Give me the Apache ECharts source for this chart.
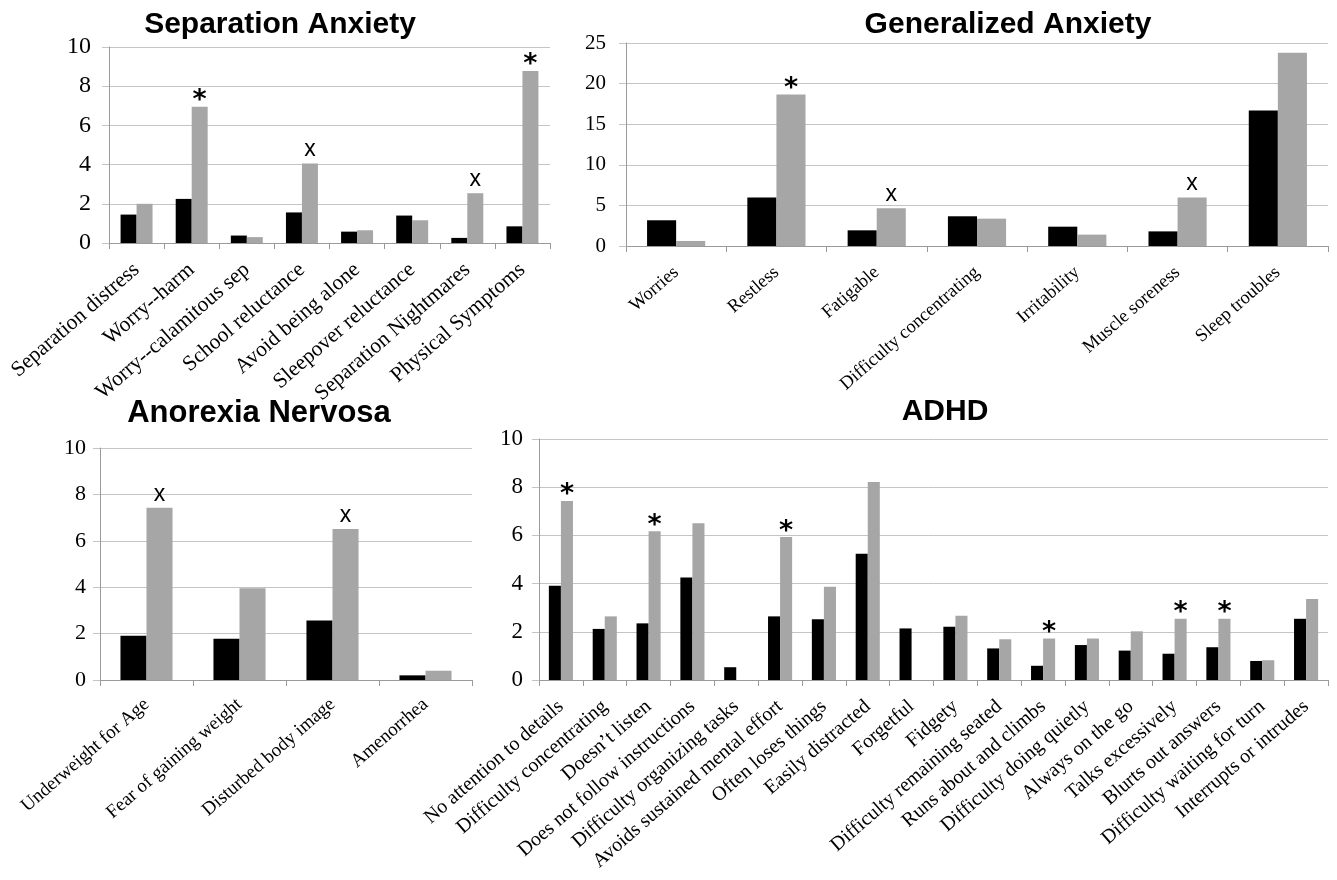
<!DOCTYPE html>
<html>
<head>
<meta charset="utf-8">
<script src="https://cdn.jsdelivr.net/npm/echarts@6/dist/echarts.min.js"></script>
<style>html,body{margin:0;padding:0;background:#fff}#c{width:1337px;height:880px}</style>
</head>
<body>
<div id="c"></div>
<script>
// ---- Data ----
const sepCats = ['Separation distress','Worry--harm','Worry--calamitous sep','School reluctance','Avoid being alone','Sleepover reluctance','Separation Nightmares','Physical Symptoms'];
const sepBlack = [1.45, 2.25, 0.38, 1.56, 0.58, 1.4, 0.26, 0.85];
const sepGray  = [2.0, 6.95, 0.3, 4.05, 0.65, 1.16, 2.54, 8.78];
const sepMarks = ['', '*', '', 'x', '', '', 'x', '*'];

const genCats = ['Worries','Restless','Fatigable','Difficulty concentrating','Irritability','Muscle soreness','Sleep troubles'];
const genBlack = [3.17, 5.96, 1.93, 3.66, 2.38, 1.8, 16.7];
const genGray  = [0.62, 18.67, 4.65, 3.37, 1.4, 5.96, 23.8];
const genMarks = ['', '*', 'x', '', '', 'x', ''];

const anoCats = ['Underweight for Age','Fear of gaining weight','Disturbed body image','Amenorrhea'];
const anoBlack = [1.91, 1.78, 2.57, 0.2];
const anoGray  = [7.42, 3.96, 6.51, 0.4];
const anoMarks = ['x', '', 'x', ''];

const adhdCats = ['No attention to details','Difficulty concentrating','Doesn\u2019t listen','Does not follow instructions','Difficulty organizing tasks','Avoids sustained mental effort','Often loses things','Easily distracted','Forgetful','Fidgety','Difficulty remaining seated','Runs about and climbs','Difficulty doing quietly','Always on the go','Talks excessively','Blurts out answers','Difficulty waiting for turn','Interrupts or intrudes'];
const adhdBlack = [3.91, 2.12, 2.35, 4.25, 0.53, 2.64, 2.52, 5.24, 2.14, 2.21, 1.31, 0.59, 1.45, 1.22, 1.09, 1.36, 0.79, 2.54];
const adhdGray  = [7.43, 2.64, 6.17, 6.5, 0, 5.93, 3.87, 8.22, 0, 2.67, 1.69, 1.72, 1.72, 2.02, 2.54, 2.54, 0.82, 3.36];
const adhdMarks = ['*', '', '*', '', '', '*', '', '', '', '', '', '*', '', '', '*', '*', '', ''];

const sepTicks = {min: 0, max: 10, interval: 2};
const genTicks = {min: 0, max: 25, interval: 5};
const anoTicks = {min: 0, max: 10, interval: 2};
const adhdTicks = {min: 0, max: 10, interval: 2};

// ---- Style ----
const SERIF = 'Liberation Serif';
const SANS = 'Liberation Sans';
const BLACK = '#000000';
const GRAY = '#a6a6a6';

function xAxis(idx, cats, fs, margin) {
  return {
    type: 'category', gridIndex: idx, data: cats,
    axisLine: {lineStyle: {color: '#9a9a9a', width: 1}},
    axisTick: {show: true, length: 6, lineStyle: {color: '#9a9a9a'}},
    axisLabel: {rotate: 41, interval: 0, fontFamily: SERIF, fontSize: fs, color: '#000', margin: margin}
  };
}
function yAxis(idx, t, fs, margin) {
  return {
    type: 'value', gridIndex: idx, min: t.min, max: t.max, interval: t.interval,
    axisLine: {show: true, lineStyle: {color: '#9a9a9a', width: 1}},
    axisTick: {show: true, length: 7, lineStyle: {color: '#c4c4c4'}},
    splitLine: {show: true, lineStyle: {color: '#c4c4c4', width: 1}},
    axisLabel: {fontFamily: SERIF, fontSize: fs, color: '#000', margin: margin}
  };
}
function markLabel(m) {
  if (m === '*') return {show: true, position: 'top', distance: -8, formatter: '*',
                         fontFamily: 'DejaVu Sans', fontWeight: 'bold', fontSize: 27, color: '#000'};
  if (m === 'x') return {show: true, position: 'top', distance: 2, formatter: 'x',
                         fontFamily: SANS, fontSize: 23, color: '#000'};
  return {show: false};
}
function pair(idx, black, gray, marks, gap) {
  return [
    {type: 'bar', xAxisIndex: idx, yAxisIndex: idx, data: black, barGap: '0%', barCategoryGap: gap,
     itemStyle: {color: BLACK}, silent: true, animation: false},
    {type: 'bar', xAxisIndex: idx, yAxisIndex: idx, barGap: '0%', barCategoryGap: gap,
     data: gray.map((v, i) => ({value: v, label: markLabel(marks[i])})),
     itemStyle: {color: GRAY}, silent: true, animation: false}
  ];
}
function title(text, cx, top, fs) {
  return {text: text, left: cx, top: top, textAlign: 'center',
          textStyle: {fontFamily: SANS, fontWeight: 'bold', fontSize: fs, color: '#000'}};
}

const chart = echarts.init(document.getElementById('c'), null, {renderer: 'canvas'});
chart.setOption({
  animation: false,
  backgroundColor: '#fff',
  title: [
    title('Separation Anxiety', 275, 5, 30),
    title('Generalized Anxiety', 1003, 5, 30),
    title('Anorexia Nervosa', 254, 393, 31),
    title('ADHD', 940, 392, 30)
  ],
  grid: [
    {left: 109, top: 47, width: 441, height: 196},
    {left: 626, top: 43, width: 702, height: 203},
    {left: 100, top: 448, width: 372, height: 232},
    {left: 539, top: 439, width: 789, height: 241}
  ],
  xAxis: [xAxis(0, sepCats, 21.5, 24), xAxis(1, genCats, 18.5, 24), xAxis(2, anoCats, 19, 22), xAxis(3, adhdCats, 20, 24)],
  yAxis: [yAxis(0, sepTicks, 24, 18), yAxis(1, genTicks, 21, 20), yAxis(2, anoTicks, 22, 14), yAxis(3, adhdTicks, 23, 16)],
  series: [].concat(
    pair(0, sepBlack, sepGray, sepMarks, '42%'),
    pair(1, genBlack, genGray, genMarks, '42%'),
    pair(2, anoBlack, anoGray, anoMarks, '44%'),
    pair(3, adhdBlack, adhdGray, adhdMarks, '45%')
  )
});
</script>
</body>
</html>
